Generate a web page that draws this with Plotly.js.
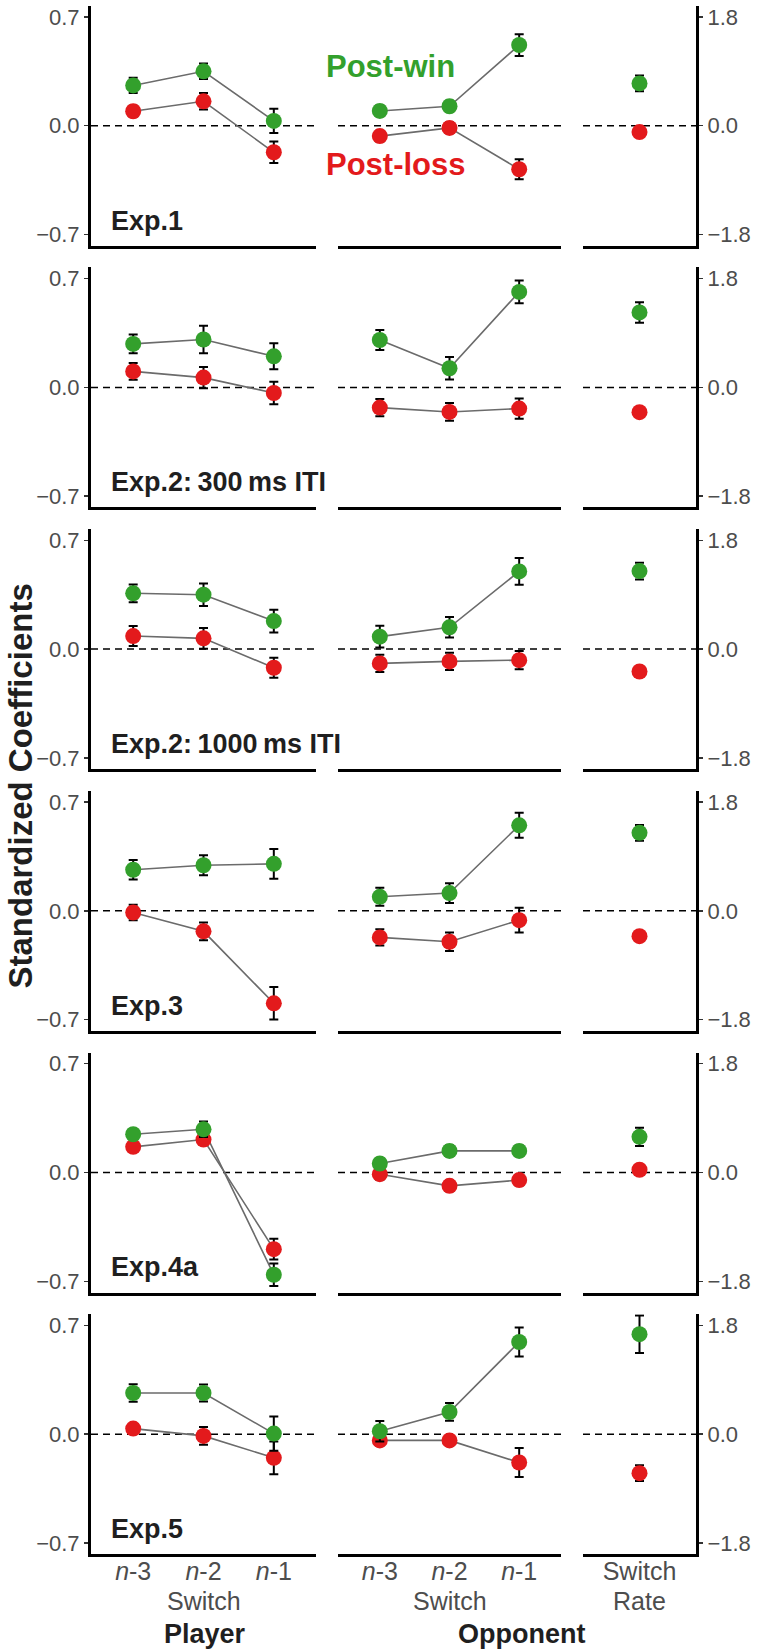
<!DOCTYPE html>
<html>
<head>
<meta charset="utf-8">
<script src="https://cdn.plot.ly/plotly-3.0.1.min.js"></script>
<style>html,body{margin:0;padding:0;background:#fff}</style>
</head>
<body>
<div id="chart" style="width:760px;height:1651px"></div>
<script>
// ---------- data ----------
const experiments = ["Exp.1", "Exp.2:\u2009300\u2009ms ITI", "Exp.2:\u20091000\u2009ms ITI", "Exp.3", "Exp.4a", "Exp.5"];
const lags = ["n-3", "n-2", "n-1"];
const lagLabels = ["<i>n</i>-3", "<i>n</i>-2", "<i>n</i>-1"];
const rateCategory = ["Switch"];
const axisTitles = ["Switch", "Switch", "Rate"];
const seriesNames = ["Post-win", "Post-loss"];
const panelTitles = ["Player", "Opponent"];
const yTicksLeft = [-0.7, 0, 0.7];
const yTicksRight = [-1.8, 0, 1.8];

// Player switch coefficients
const playerWin = [
  [0.259, 0.350, 0.031],
  [0.280, 0.308, 0.200],
  [0.359, 0.350, 0.180],
  [0.264, 0.293, 0.302],
  [0.246, 0.278, -0.658],
  [0.265, 0.265, 0.004]
];
const playerWinErr = [
  [0.049, 0.050, 0.078],
  [0.060, 0.088, 0.084],
  [0.057, 0.072, 0.073],
  [0.063, 0.065, 0.096],
  [0.030, 0.050, 0.072],
  [0.057, 0.055, 0.110]
];
const playerLoss = [
  [0.093, 0.157, -0.171],
  [0.103, 0.063, -0.036],
  [0.084, 0.069, -0.120],
  [-0.011, -0.132, -0.595],
  [0.165, 0.212, -0.493],
  [0.036, -0.011, -0.152]
];
const playerLossErr = [
  [0.035, 0.053, 0.069],
  [0.054, 0.068, 0.073],
  [0.064, 0.067, 0.064],
  [0.050, 0.057, 0.105],
  [0.030, 0.030, 0.066],
  [0.030, 0.057, 0.105]
];
// Opponent switch coefficients
const oppWin = [
  [0.095, 0.125, 0.519],
  [0.305, 0.123, 0.614],
  [0.080, 0.140, 0.500],
  [0.090, 0.114, 0.550],
  [0.058, 0.139, 0.139],
  [0.019, 0.143, 0.593]
];
const oppWinErr = [
  [0.035, 0.035, 0.070],
  [0.065, 0.072, 0.073],
  [0.070, 0.066, 0.086],
  [0.058, 0.064, 0.080],
  [0.035, 0.035, 0.035],
  [0.066, 0.057, 0.093]
];
const oppLoss = [
  [-0.067, -0.014, -0.280],
  [-0.130, -0.158, -0.136],
  [-0.092, -0.079, -0.071],
  [-0.171, -0.199, -0.060],
  [-0.011, -0.086, -0.049],
  [-0.040, -0.040, -0.182]
];
const oppLossErr = [
  [0.035, 0.035, 0.064],
  [0.056, 0.057, 0.065],
  [0.056, 0.056, 0.059],
  [0.053, 0.059, 0.080],
  [0.035, 0.035, 0.035],
  [0.035, 0.035, 0.093]
];
// Switch rate coefficients (right axis)
const rateWin = [0.70, 1.24, 1.29, 1.29, 0.59, 1.655];
const rateWinErr = [0.13, 0.17, 0.14, 0.13, 0.15, 0.31];
const rateLoss = [-0.105, -0.41, -0.37, -0.42, 0.045, -0.645];
const rateLossErr = [0.07, 0.07, 0.07, 0.07, 0.07, 0.13];

// ---------- style / layout ----------
const W = 760, H = 1651;
const FONT = "Liberation Sans, Arial, Helvetica, sans-serif";
const GREEN = "#33A02C", RED = "#E31A1C";
const TICKGRAY = "#4D4D4D", DARK = "#1f1f1f";
const colPx = [[91, 316], [338, 561], [583, 696]];
const zero0 = 125.7, pitch = 261.7, half = 120;
const yRange = 0.772, yRangeR = 0.772 * 1.8 / 0.7;

const traces = [];
const layout = {
  width: W, height: H,
  margin: {l: 0, r: 0, t: 0, b: 0},
  showlegend: false,
  paper_bgcolor: "#fff", plot_bgcolor: "rgba(0,0,0,0)",
  font: {family: FONT, color: TICKGRAY},
  shapes: [], annotations: []
};

function ax(n, letter) { return letter + "axis" + (n === 1 ? "" : n); }
function ref(n, letter) { return letter + (n === 1 ? "" : n); }

function lineTrace(n, x, y) {
  return {x: x, y: y, xaxis: ref(n, "x"), yaxis: ref(n, "y"), mode: "lines",
          line: {color: "#6b6b6b", width: 1.6}, hoverinfo: "skip"};
}
function markerTrace(n, x, y, err, color, name) {
  return {x: x, y: y, xaxis: ref(n, "x"), yaxis: ref(n, "y"), mode: "markers", name: name,
          marker: {size: 16, color: color, line: {width: 0}},
          error_y: {type: "data", array: err, visible: true, color: "#000", thickness: 2, width: 4.5}};
}

for (let r = 0; r < 6; r++) {
  const Z = zero0 + pitch * r;
  const yDom = [1 - (Z + half) / H, 1 - (Z - half) / H];
  for (let c = 0; c < 3; c++) {
    const n = r * 3 + c + 1;
    const isRate = c === 2;
    const cats = isRate ? rateCategory : lags;
    layout[ax(n, "x")] = {
      domain: [colPx[c][0] / W, colPx[c][1] / W],
      anchor: ref(n, "y"),
      type: "category", categoryorder: "array", categoryarray: cats,
      range: isRate ? [-0.6, 0.6] : [-0.6, 2.6],
      showline: true, linecolor: "#000", linewidth: 3,
      ticks: "", showgrid: false, zeroline: false,
      showticklabels: r === 5,
      tickmode: "array", tickvals: cats, ticktext: isRate ? rateCategory : lagLabels,
      tickfont: {size: 25, color: TICKGRAY, family: FONT},
      ticklabelstandoff: -7,
      fixedrange: true
    };

    const ya = {
      domain: yDom, anchor: ref(n, "x"),
      range: isRate ? [-yRangeR, yRangeR] : [-yRange, yRange],
      showgrid: false, zeroline: false, fixedrange: true
    };
    if (c === 1) {
      ya.visible = false;
    } else {
      Object.assign(ya, {
        side: isRate ? "right" : "left",
        showline: true, linecolor: "#000", linewidth: 3,
        ticks: "outside", ticklen: 4, tickwidth: 1.5, tickcolor: "#333",
        tickmode: "array", tickvals: isRate ? yTicksRight : yTicksLeft,
        tickformat: ".1f",
        tickfont: {size: 22, color: TICKGRAY, family: FONT}
      });
    }
    layout[ax(n, "y")] = ya;

    // dashed zero reference line
    layout.shapes.push({type: "line", xref: ref(n, "x") + " domain", x0: 0, x1: 1,
      yref: ref(n, "y"), y0: 0, y1: 0, layer: "below",
      line: {color: "#000", width: 1.5, dash: "7px,5px"}});

    // x-axis titles under bottom row
    if (r === 5) {
      layout.annotations.push({
        text: axisTitles[c], showarrow: false,
        xref: ref(n, "x") + " domain", x: 0.5, xanchor: "center",
        yref: "paper", y: 1 - 1601 / H, yanchor: "middle",
        font: {size: 25, color: TICKGRAY, family: FONT}
      });
    }

    if (c === 0) {
      traces.push(lineTrace(n, lags, playerLoss[r]));
      traces.push(lineTrace(n, lags, playerWin[r]));
      traces.push(markerTrace(n, lags, playerLoss[r], playerLossErr[r], RED, seriesNames[1]));
      traces.push(markerTrace(n, lags, playerWin[r], playerWinErr[r], GREEN, seriesNames[0]));
      layout.annotations.push({
        text: "<b>" + experiments[r] + "</b>", showarrow: false,
        xref: ref(n, "x") + " domain", yref: ref(n, "y") + " domain",
        x: (109 - 91) / 225, xanchor: "left", y: 0.105, yanchor: "middle",
        font: {size: 27, color: DARK, family: FONT}
      });
    } else if (c === 1) {
      traces.push(lineTrace(n, lags, oppLoss[r]));
      traces.push(lineTrace(n, lags, oppWin[r]));
      traces.push(markerTrace(n, lags, oppLoss[r], oppLossErr[r], RED, seriesNames[1]));
      traces.push(markerTrace(n, lags, oppWin[r], oppWinErr[r], GREEN, seriesNames[0]));
    } else {
      traces.push(markerTrace(n, rateCategory, [rateLoss[r]], [rateLossErr[r]], RED, seriesNames[1]));
      traces.push(markerTrace(n, rateCategory, [rateWin[r]], [rateWinErr[r]], GREEN, seriesNames[0]));
    }
  }
}

// legend-like labels
layout.annotations.push({text: "<b>" + seriesNames[0] + "</b>", showarrow: false, xref: "paper", yref: "paper",
  x: 324 / W, xanchor: "left", y: 1 - 66 / H, yanchor: "middle", font: {size: 31, color: GREEN, family: FONT}});
layout.annotations.push({text: "<b>" + seriesNames[1] + "</b>", showarrow: false, xref: "paper", yref: "paper",
  x: 324 / W, xanchor: "left", y: 1 - 164.5 / H, yanchor: "middle", font: {size: 31, color: RED, family: FONT}});
// group labels
layout.annotations.push({text: "<b>" + panelTitles[0] + "</b>", showarrow: false, xref: "paper", yref: "paper",
  x: 205 / W, xanchor: "center", y: 1 - 1634 / H, yanchor: "middle", font: {size: 27, color: DARK, family: FONT}});
layout.annotations.push({text: "<b>" + panelTitles[1] + "</b>", showarrow: false, xref: "paper", yref: "paper",
  x: 521 / W, xanchor: "center", y: 1 - 1634 / H, yanchor: "middle", font: {size: 27, color: DARK, family: FONT}});
// y-axis title
layout.annotations.push({text: "<b>Standardized Coefficients</b>", showarrow: false, xref: "paper", yref: "paper",
  x: 19.5 / W, xanchor: "center", y: 1 - 786 / H, yanchor: "middle", textangle: -90,
  font: {size: 33, color: DARK, family: FONT}});

Plotly.newPlot("chart", traces, layout, {staticPlot: true, displayModeBar: false});
</script>
</body>
</html>
